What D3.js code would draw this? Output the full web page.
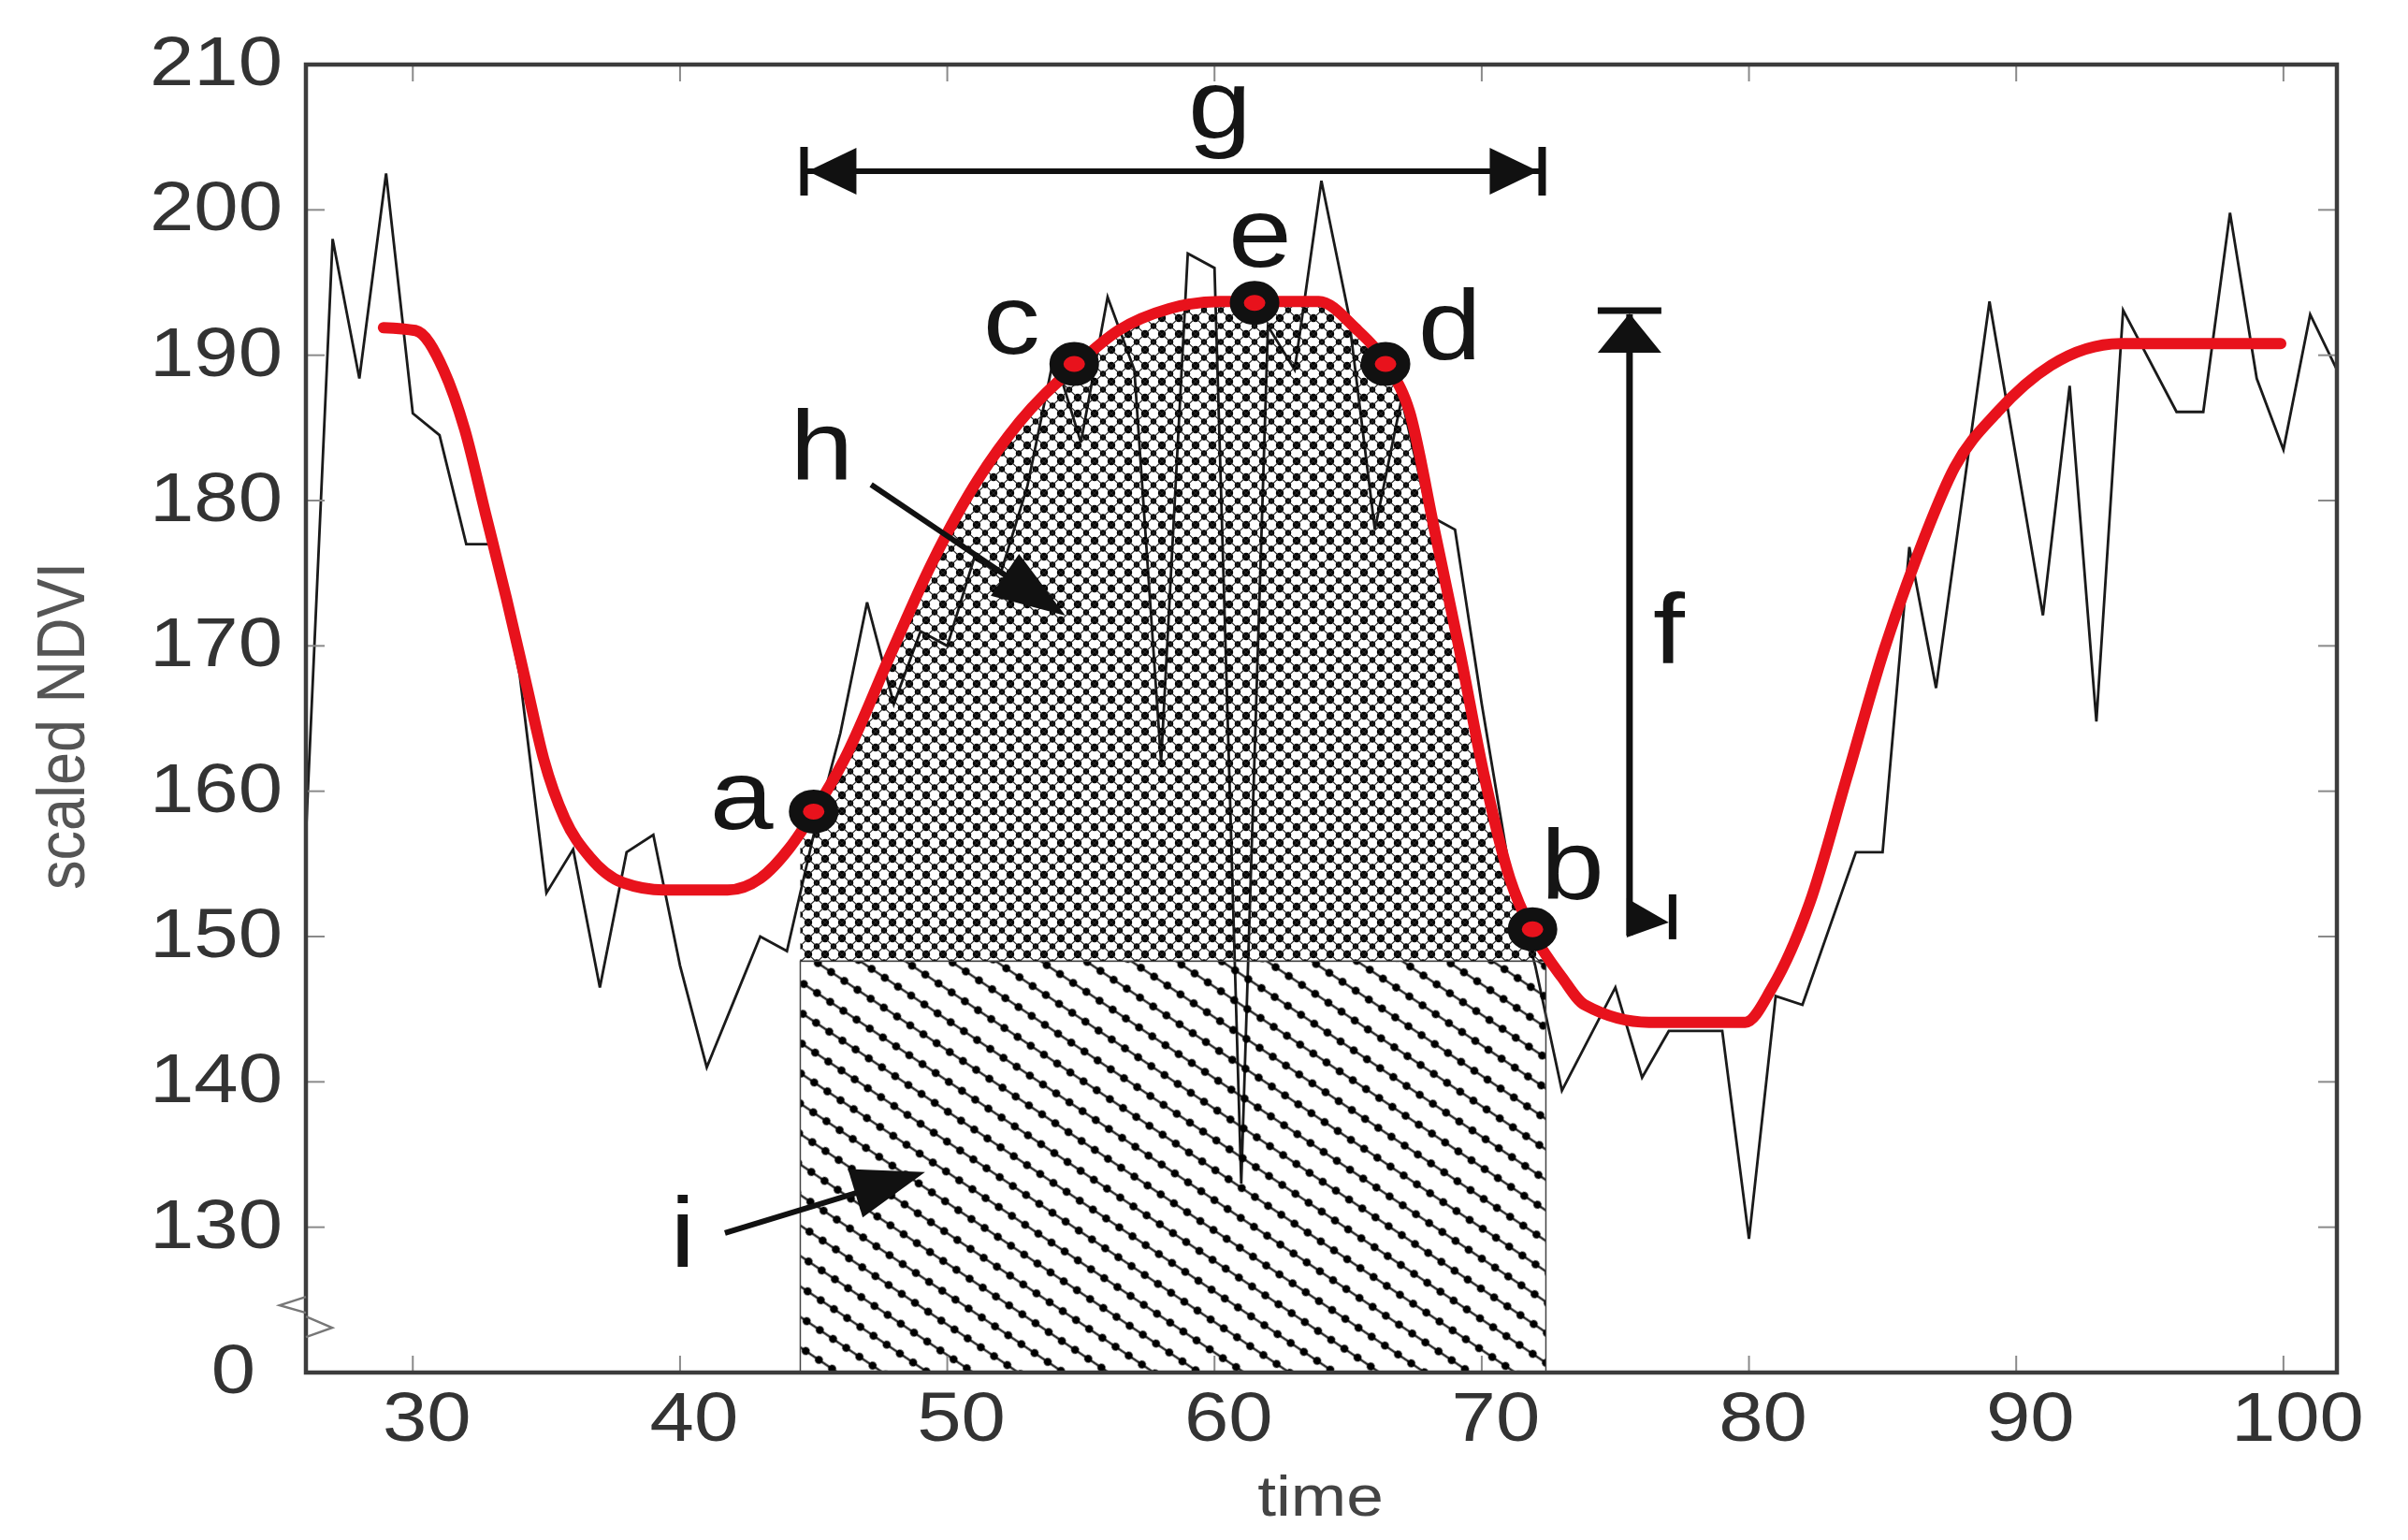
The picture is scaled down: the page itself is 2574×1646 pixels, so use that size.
<!DOCTYPE html>
<html>
<head>
<meta charset="utf-8">
<script src="https://cdn.jsdelivr.net/npm/d3@7"></script>
<style>
  body { margin: 0; background: #fff; }
  text { font-family: "Liberation Sans", Arial, sans-serif; }
</style>
</head>
<body>
<div id="chart"></div>
<script>
// raw (noisy) scaled NDVI series
var rawTime = [26, 27, 28, 29, 30, 31, 32, 33, 34, 35, 36, 37, 38, 39, 40, 41, 42, 43, 44, 45,
  46, 47, 48, 49, 50, 51, 52, 53, 54, 55, 56, 57, 58, 59, 60, 61, 62, 63, 64, 65,
  66, 67, 68, 69, 70, 71, 72, 73, 75, 76, 77, 79, 80, 81, 82, 84, 85, 86, 87, 89,
  91, 92, 93, 94, 96, 97, 98, 99, 100, 101, 102];
var rawNdvi = [157, 198, 188.4, 202.5, 186, 184.5, 177, 177, 168, 153, 156, 146.5, 155.8, 157, 148, 141, 145.5, 150, 149, 157,
  164, 173, 166, 171, 170, 176, 175, 181, 190, 184, 194, 189, 162, 197, 196, 133, 192, 189, 202, 193,
  178, 187, 179, 178, 166, 155, 148, 139.4, 146.5, 140.3, 143.5, 143.5, 129.2, 145.9, 145.3, 155.8, 155.8, 176.8, 167.1, 193.7,
  172.1, 187.9, 164.8, 193.1, 186.1, 186.1, 199.8, 188.4, 183.5, 192.8, 189];

// fitted (smoothed) curve
var fitTime = [28.9, 30.1, 31.15, 31.94, 32.72, 33.5, 34.28, 34.9, 35.69, 36.61, 37.87, 39.4, 41.78, 43.0, 44.1,
  45.05, 46.15, 47.9, 49.4, 50.8, 52.7, 54.75, 56.4, 58.3, 60.2, 61.5, 63.9, 65.25, 66.46, 67.3,
  68.24, 69.16, 70.1, 71.05, 71.9, 73.0, 73.85, 76.26, 79.86, 80.87, 82.27, 83.67, 85.07, 86.3, 87.7,
  89.3, 91.3, 93.9, 97.3, 99.9];
var fitNdvi = [191.9, 191.7, 189.0, 184.9, 179.1, 173.3, 167.1, 162.2, 158.1, 155.5, 153.7, 153.2, 153.2, 154.0, 156.1,
  158.7, 162.2, 169.5, 175.6, 180.4, 185.4, 189.2, 191.7, 193.2, 193.7, 193.7, 193.7, 191.9, 189.3, 186.1,
  177.9, 169.8, 161.0, 154.0, 150.3, 147.2, 145.3, 144.1, 144.1, 146.5, 152.3, 161.0, 169.8, 176.2, 182.3,
  186.1, 189.3, 190.8, 190.8, 190.8];

// phenology markers
var markerTime = [45.0, 54.75, 61.5, 66.4, 71.9];
var markerNdvi = [158.6, 189.4, 193.6, 189.4, 150.5];

// season limits and base level
var seasonStart = 44.5;
var seasonEnd = 72.4;
var baseLevel = 148.3;

// tick labels
var xTicks = [30, 40, 50, 60, 70, 80, 90, 100];
var yTicks = [210, 200, 190, 180, 170, 160, 150, 140, 130, 120];
var yTickLabels = ["210", "200", "190", "180", "170", "160", "150", "140", "130", "0"];

// annotation letters
var letterText = ["g", "c", "e", "d", "h", "a", "b", "f", "i"];
var letterTime = [60.2, 52.4, 61.7, 68.8, 45.3, 42.3, 73.4, 77.0, 40.1];
var letterNdvi = [204.9, 190.1, 196.1, 189.7, 181.4, 157.4, 152.6, 168.8, 127.3];

var svgWidth = 2574;
var svgHeight = 1646;
var margin = { top: 69, right: 76, bottom: 179, left: 327 };
var stretch = 1.15;

var svg = d3.select("#chart").append("svg")
  .attr("width", svgWidth)
  .attr("height", svgHeight)
  .style("display", "block");

svg.append("rect").attr("width", svgWidth).attr("height", svgHeight).attr("fill", "#fff");

var x = d3.scaleLinear().domain([26, 102]).range([margin.left, svgWidth - margin.right]);
var y = d3.scaleLinear().domain([120, 210]).range([svgHeight - margin.bottom, margin.top]);

var defs = svg.append("defs");

// diagonal dotted hatch
var diag = defs.append("pattern")
  .attr("id", "diag")
  .attr("patternUnits", "userSpaceOnUse")
  .attr("width", 17).attr("height", 27)
  .attr("patternTransform", "rotate(34)");
diag.append("line").attr("x1", 0).attr("x2", 17).attr("y1", 13.5).attr("y2", 13.5)
  .attr("stroke", "#111").attr("stroke-width", 2.2);
diag.append("circle").attr("cx", 8.5).attr("cy", 13.5).attr("r", 4.3).attr("fill", "#000");

// checkered dotted hatch
var check = defs.append("pattern")
  .attr("id", "check")
  .attr("patternUnits", "userSpaceOnUse")
  .attr("width", 18).attr("height", 17);
[[0, 0], [18, 0], [0, 17], [18, 17]].forEach(function(p) {
  check.append("circle").attr("cx", p[0]).attr("cy", p[1]).attr("r", 4.2).attr("fill", "#000");
});
check.append("circle").attr("cx", 9).attr("cy", 8.5).attr("r", 3.2).attr("fill", "#000");
check.append("path").attr("d", "M0,0L18,17M18,0L0,17")
  .attr("stroke", "#222").attr("stroke-width", 1.2);

defs.append("clipPath").attr("id", "season")
  .append("rect")
  .attr("x", x(seasonStart)).attr("width", x(seasonEnd) - x(seasonStart))
  .attr("y", margin.top).attr("height", y(baseLevel) - margin.top);

defs.append("clipPath").attr("id", "plot")
  .append("rect")
  .attr("x", x(26)).attr("width", x(102) - x(26))
  .attr("y", y(210)).attr("height", y(120) - y(210));

var fitData = fitTime.map(function(t, i) { return { t: t, v: fitNdvi[i] }; });
var rawData = rawTime.map(function(t, i) { return { t: t, v: rawNdvi[i] }; });

// raw series (drawn first so the hatching sits over it)
var rawLine = d3.line().x(function(d) { return x(d.t); }).y(function(d) { return y(d.v); });
svg.append("path")
  .datum(rawData)
  .attr("clip-path", "url(#plot)")
  .attr("d", rawLine)
  .attr("fill", "none")
  .attr("stroke", "#1a1a1a")
  .attr("stroke-width", 2.8)
  .attr("stroke-linejoin", "miter");

// lower hatched block
svg.append("rect")
  .attr("x", x(seasonStart)).attr("width", x(seasonEnd) - x(seasonStart))
  .attr("y", y(baseLevel)).attr("height", y(120) - y(baseLevel))
  .attr("fill", "url(#diag)")
  .attr("stroke", "#444").attr("stroke-width", 1.5);

// upper hatched area under the fitted curve
var area = d3.area()
  .x(function(d) { return x(d.t); })
  .y0(y(baseLevel))
  .y1(function(d) { return y(d.v); })
  .curve(d3.curveMonotoneX);

svg.append("path")
  .datum(fitData)
  .attr("clip-path", "url(#season)")
  .attr("d", area)
  .attr("fill", "url(#check)")
  .attr("stroke", "#444").attr("stroke-width", 1.5);

// fitted curve
var fitLine = d3.line()
  .x(function(d) { return x(d.t); })
  .y(function(d) { return y(d.v); })
  .curve(d3.curveMonotoneX);
svg.append("path")
  .datum(fitData)
  .attr("d", fitLine)
  .attr("fill", "none")
  .attr("stroke", "#e8121c")
  .attr("stroke-width", 12)
  .attr("stroke-linecap", "round");

// arrows
function arrowHead(tipX, tipY, angle, len, half) {
  var c = Math.cos(angle), s = Math.sin(angle);
  var bx = tipX - c * len, by = tipY - s * len;
  return "M" + tipX + "," + tipY +
    "L" + (bx - s * half) + "," + (by + c * half) +
    "L" + (bx + s * half) + "," + (by - c * half) + "Z";
}
var ann = svg.append("g").attr("fill", "#111").attr("stroke", "#111");

// g : season length
var gy = y(202.66), gx0 = x(seasonStart) + 4, gx1 = x(seasonEnd) - 4;
ann.append("line").attr("x1", gx0).attr("x2", gx1).attr("y1", gy).attr("y2", gy).attr("stroke-width", 6);
ann.append("path").attr("stroke", "none").attr("d", arrowHead(gx0 + 4, gy, Math.PI, 52, 25));
ann.append("path").attr("stroke", "none").attr("d", arrowHead(gx1 - 4, gy, 0, 52, 25));
ann.append("line").attr("x1", gx0).attr("x2", gx0).attr("y1", gy - 26).attr("y2", gy + 26).attr("stroke-width", 8);
ann.append("line").attr("x1", gx1).attr("x2", gx1).attr("y1", gy - 26).attr("y2", gy + 26).attr("stroke-width", 8);

// f : amplitude
var fx = x(75.53), fy0 = y(193.07), fy1 = y(150.07);
ann.append("line").attr("x1", fx).attr("x2", fx).attr("y1", fy0 + 4).attr("y2", fy1).attr("stroke-width", 7);
ann.append("line").attr("x1", fx - 34).attr("x2", fx + 34).attr("y1", fy0).attr("y2", fy0).attr("stroke-width", 7);
ann.append("path").attr("stroke", "none").attr("d", arrowHead(fx, fy0 + 3, -Math.PI / 2, 42, 34));
ann.append("path").attr("stroke", "none")
  .attr("d", "M" + (fx - 3) + "," + (fy1 - 40) + "L" + (fx + 42) + "," + (fy1 - 14) + "L" + (fx - 3) + "," + (fy1 + 2) + "Z");
ann.append("line").attr("x1", fx + 46).attr("x2", fx + 46).attr("y1", fy1 - 44).attr("y2", fy1 + 4).attr("stroke-width", 8);

// h and i pointers
function pointer(t0, v0, t1, v1) {
  var x0 = x(t0), y0 = y(v0), x1 = x(t1), y1 = y(v1);
  var ang = Math.atan2(y1 - y0, x1 - x0);
  ann.append("line").attr("x1", x0).attr("y1", y0)
    .attr("x2", x1 - Math.cos(ang) * 40).attr("y2", y1 - Math.sin(ang) * 40)
    .attr("stroke-width", 6);
  ann.append("path").attr("stroke", "none").attr("d", arrowHead(x1, y1, ang, 78, 27));
}
pointer(47.15, 181.1, 54.42, 172.08);
pointer(41.68, 129.6, 49.17, 133.8);

// markers
svg.append("g").selectAll("ellipse")
  .data(markerTime)
  .enter()
  .append("ellipse")
  .attr("cx", function(d) { return x(d); })
  .attr("cy", function(d, i) { return y(markerNdvi[i]); })
  .attr("rx", 19).attr("ry", 16)
  .attr("fill", "#e8121c")
  .attr("stroke", "#111")
  .attr("stroke-width", 15);

// letters
svg.append("g").selectAll("text")
  .data(letterText)
  .enter()
  .append("text")
  .attr("transform", function(d, i) {
    return "translate(" + x(letterTime[i]) + "," + y(letterNdvi[i]) + ") scale(" + stretch + ",1)";
  })
  .attr("text-anchor", "middle")
  .attr("font-size", 106)
  .attr("fill", "#151515")
  .text(function(d) { return d; });

// axes box
var axisColor = "#3c3c3c";
var x0p = x(26), x1p = x(102), y0p = y(120), y1p = y(210);
var ticks = svg.append("g").attr("stroke", "#8a8a8a").attr("stroke-width", 2);
xTicks.forEach(function(t) {
  ticks.append("line").attr("x1", x(t)).attr("x2", x(t)).attr("y1", y0p).attr("y2", y0p - 18);
  ticks.append("line").attr("x1", x(t)).attr("x2", x(t)).attr("y1", y1p).attr("y2", y1p + 18);
});
yTicks.slice(1, -1).forEach(function(v) {
  ticks.append("line").attr("x1", x0p).attr("x2", x0p + 20).attr("y1", y(v)).attr("y2", y(v));
  ticks.append("line").attr("x1", x1p).attr("x2", x1p - 20).attr("y1", y(v)).attr("y2", y(v));
});
svg.append("rect")
  .attr("x", x0p).attr("y", y1p)
  .attr("width", x1p - x0p).attr("height", y0p - y1p)
  .attr("fill", "none")
  .attr("stroke", axisColor)
  .attr("stroke-width", 4.5);

// axis break marks
var by = y(124.5);
svg.append("path")
  .attr("d", "M" + x0p + "," + (by - 11) + "L" + (x0p - 28) + "," + (by - 2) + "L" + x0p + "," + (by + 6) +
    "M" + x0p + "," + (by + 10) + "L" + (x0p + 28) + "," + (by + 22) + "L" + x0p + "," + (by + 32))
  .attr("fill", "none").attr("stroke", "#777").attr("stroke-width", 2.5);

// tick labels
svg.append("g").selectAll("text")
  .data(xTicks)
  .enter()
  .append("text")
  .attr("transform", function(d) { return "translate(" + (x(d) + 15) + "," + (y0p + 73) + ") scale(" + stretch + ",1)"; })
  .attr("text-anchor", "middle")
  .attr("font-size", 74)
  .attr("fill", "#333")
  .text(function(d) { return d; });

svg.append("g").selectAll("text")
  .data(yTicks)
  .enter()
  .append("text")
  .attr("transform", function(d, i) {
    var tx = (i === yTicks.length - 1) ? 273 : 302;
    return "translate(" + tx + "," + (y(d) + 22) + ") scale(" + stretch + ",1)";
  })
  .attr("text-anchor", "end")
  .attr("font-size", 74)
  .attr("fill", "#333")
  .text(function(d, i) { return yTickLabels[i]; });

// axis titles
svg.append("text")
  .attr("transform", "translate(" + ((x0p + x1p) / 2 - 1) + ",1620) scale(" + stretch + ",1)")
  .attr("text-anchor", "middle")
  .attr("font-size", 62)
  .attr("fill", "#444")
  .text("time");

svg.append("text")
  .attr("transform", "translate(90," + ((y0p + y1p) / 2 + 8) + ") rotate(-90) scale(1," + stretch + ")")
  .attr("text-anchor", "middle")
  .attr("font-size", 63)
  .attr("fill", "#555")
  .text("scaled NDVI");
</script>
</body>
</html>
